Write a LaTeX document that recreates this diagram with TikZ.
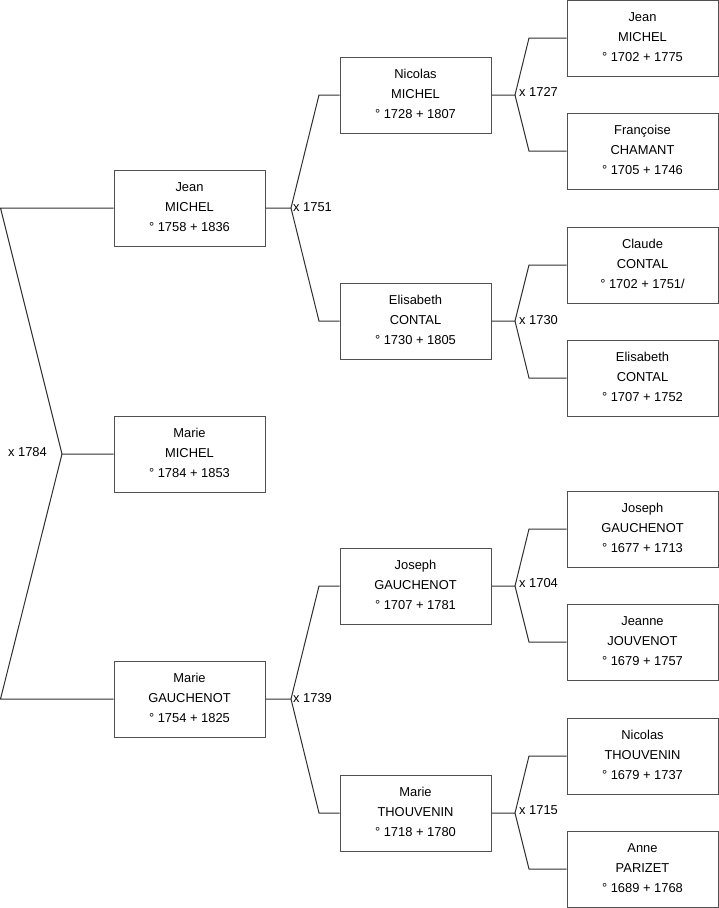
\documentclass[tikz,border=0pt]{standalone}
\usepackage{fontspec}
\setmainfont{Liberation Sans}
\begin{document}
\begin{tikzpicture}[x=1pt,y=-1pt,
  person/.style={draw=boxgray,line width=1pt,fill=white,minimum width=151pt,minimum height=76pt,
    inner sep=0pt,align=center,font=\fontsize{12.9}{20}\selectfont},
  link/.style={draw=linegray,line width=1pt},
  marr/.style={font=\fontsize{12.9}{14}\selectfont,inner sep=0pt}]
\definecolor{boxgray}{HTML}{505050}
\definecolor{linegray}{HTML}{303030}
\useasboundingbox (0,0) rectangle (719,908);
% column 1
\node[person] (p1) at (189.5,208) {Jean\\MICHEL\\° 1758 + 1836\vphantom{g}};
\node[person] (p0) at (189.5,454) {Marie\\MICHEL\\° 1784 + 1853\vphantom{g}};
\node[person] (p2) at (189.5,699) {Marie\\GAUCHENOT\\° 1754 + 1825\vphantom{g}};
% column 2
\node[person] (p3) at (415.5,95) {Nicolas\\MICHEL\\° 1728 + 1807\vphantom{g}};
\node[person] (p4) at (415.5,321) {Elisabeth\\CONTAL\\° 1730 + 1805\vphantom{g}};
\node[person] (p5) at (415.5,586) {Joseph\\GAUCHENOT\\° 1707 + 1781\vphantom{g}};
\node[person] (p6) at (415.5,813) {Marie\\THOUVENIN\\° 1718 + 1780\vphantom{g}};
% column 3
\node[person] (p7) at (642.5,38) {Jean\\MICHEL\\° 1702 + 1775\vphantom{g}};
\node[person] (p8) at (642.5,151) {Françoise\\CHAMANT\\° 1705 + 1746\vphantom{g}};
\node[person] (p9) at (642.5,265) {Claude\\CONTAL\\° 1702 + 1751/\vphantom{g}};
\node[person] (p10) at (642.5,378) {Elisabeth\\CONTAL\\° 1707 + 1752\vphantom{g}};
\node[person] (p11) at (642.5,529) {Joseph\\GAUCHENOT\\° 1677 + 1713\vphantom{g}};
\node[person] (p12) at (642.5,642) {Jeanne\\JOUVENOT\\° 1679 + 1757\vphantom{g}};
\node[person] (p13) at (642.5,756) {Nicolas\\THOUVENIN\\° 1679 + 1737\vphantom{g}};
\node[person] (p14) at (642.5,869) {Anne\\PARIZET\\° 1689 + 1768\vphantom{g}};
% root junction
\coordinate (j0) at (62,454);
\coordinate (e1) at (0.5,208);
\coordinate (e2) at (0.5,699);
\draw[link] (p0.west) -- (j0) -- (e1) -- (p1.west);
\draw[link] (j0) -- (e2) -- (p2.west);
\node[marr,anchor=east] (m0) at (47,452) {x 1784};
% p1 parents
\coordinate (j1) at (291,208);
\draw[link] (p1.east) -- (j1) -- (319,95) -- (p3.west);
\draw[link] (j1) -- (319,321) -- (p4.west);
\node[marr,anchor=west] (m1) at (293,207) {x 1751};
% p2 parents
\coordinate (j2) at (291,699);
\draw[link] (p2.east) -- (j2) -- (319,586) -- (p5.west);
\draw[link] (j2) -- (319,813) -- (p6.west);
\node[marr,anchor=west] (m2) at (293,698) {x 1739};
% p3 parents
\coordinate (j3) at (515,95);
\draw[link] (p3.east) -- (j3) -- (529,38) -- (p7.west);
\draw[link] (j3) -- (529,151) -- (p8.west);
\node[marr,anchor=west] (m3) at (519,92) {x 1727};
% p4 parents
\coordinate (j4) at (515,321);
\draw[link] (p4.east) -- (j4) -- (529,265) -- (p9.west);
\draw[link] (j4) -- (529,378) -- (p10.west);
\node[marr,anchor=west] (m4) at (519,320) {x 1730};
% p5 parents
\coordinate (j5) at (515,586);
\draw[link] (p5.east) -- (j5) -- (529,529) -- (p11.west);
\draw[link] (j5) -- (529,642) -- (p12.west);
\node[marr,anchor=west] (m5) at (519,583) {x 1704};
% p6 parents
\coordinate (j6) at (515,813);
\draw[link] (p6.east) -- (j6) -- (529,756) -- (p13.west);
\draw[link] (j6) -- (529,869) -- (p14.west);
\node[marr,anchor=west] (m6) at (519,810) {x 1715};
\end{tikzpicture}
\end{document}
